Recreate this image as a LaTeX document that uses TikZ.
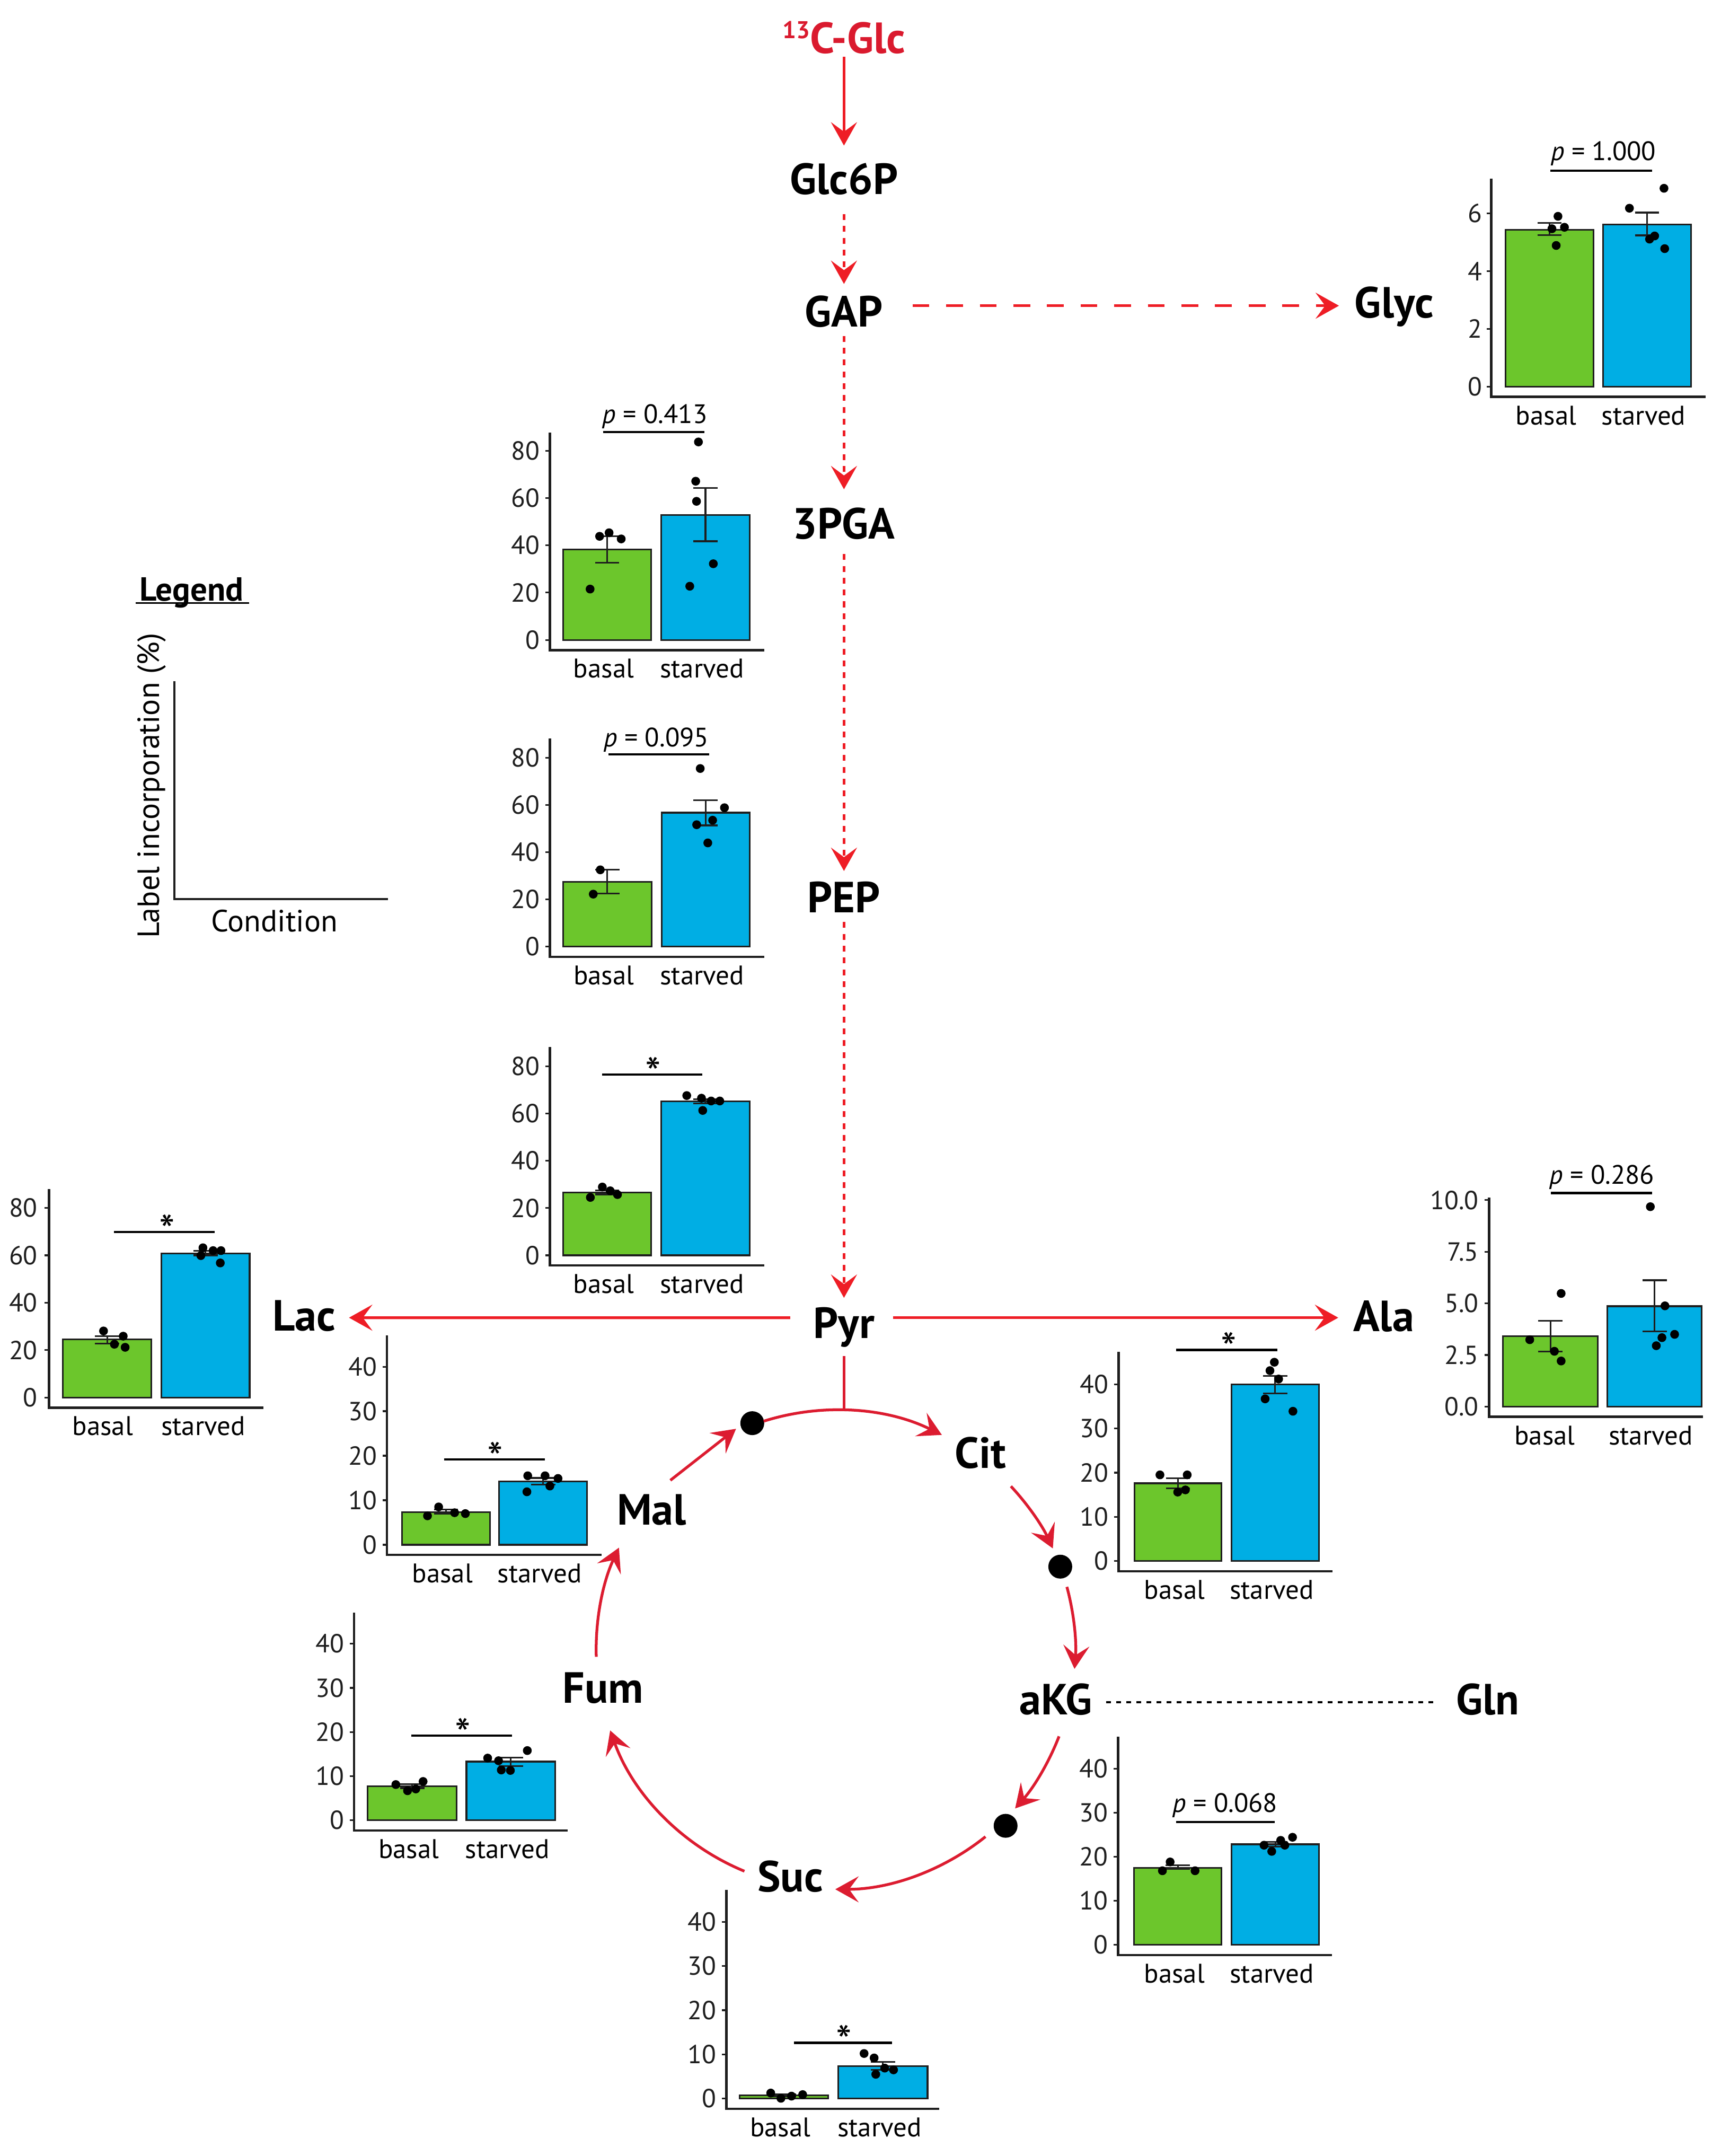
\documentclass[tikz,border=0pt]{standalone}
\usepackage{fontspec}
\setmainfont{PT Sans}
\usetikzlibrary{arrows.meta,calc}
\definecolor{glyred}{RGB}{238,29,37}
\definecolor{cycred}{RGB}{220,28,48}
\definecolor{txtred}{RGB}{218,26,46}
\definecolor{bargreen}{RGB}{108,198,44}
\definecolor{barblue}{RGB}{0,174,228}
\definecolor{ink}{RGB}{30,30,30}
\tikzset{
  metab/.style={font=\fontsize{23.4}{28}\selectfont\bfseries, inner sep=0pt, anchor=base},
  tipend/.style={-{Stealth[length=0.44cm,width=0.49cm,inset=0.18cm]}},
  glyline/.style={draw=glyred, line width=1.5pt},
  glysolid/.style={glyline, tipend},
  glydot/.style={glyline, tipend, dash pattern=on 0.11cm off 0.113cm},
  glydash/.style={glyline, tipend, dash pattern=on 0.317cm off 0.317cm},
  cycarr/.style={draw=cycred, line width=1.5pt, tipend},
  cycline/.style={draw=cycred, line width=1.5pt},
  tcadot/.style={circle, fill=black, inner sep=0pt, minimum size=0.45cm},
  glnline/.style={draw=black, line width=1.1pt, dash pattern=on 0.09cm off 0.1cm},
  axisl/.style={draw=ink, line width=1.3pt},
  tickl/.style={draw=ink, line width=0.9pt},
  ticklab/.style={font=\fontsize{14}{16}\selectfont, inner sep=0pt, anchor=east, text=ink},
  catlab/.style={font=\fontsize{14.5}{17}\selectfont, inner sep=0pt, anchor=base, text=black},
  ptext/.style={font=\fontsize{14.3}{17}\selectfont, inner sep=0pt, anchor=base},
  startext/.style={font=\fontsize{24}{26}\selectfont, inner sep=0pt, anchor=base},
  gbar/.style={fill=bargreen, draw=ink, line width=0.9pt},
  bbar/.style={fill=barblue, draw=ink, line width=0.9pt},
  errl/.style={draw=ink, line width=0.9pt},
  sigl/.style={draw=black, line width=1.2pt},
  legtext/.style={font=\fontsize{16.5}{20}\selectfont, inner sep=0pt},
}
% chart helpers (inside a shifted scope, \chs = display units per data unit)
\newcommand{\chframe}[4]{%
  \draw[axisl] (0,-#1) -- (0,7.4) -- (#2,7.4);
  \foreach \tv/\tl in {#3}{%
    \draw[tickl] (-3.3,{-(\tv)*\chs}) -- (0,{-(\tv)*\chs});
    \node[ticklab] at (#4,{-(\tv)*\chs}) {\tl};}}
\newcommand{\chbars}[6]{%
  \draw[gbar] (#1,0) rectangle (#2,{-(#3)*\chs});
  \draw[bbar] (#4,0) rectangle (#5,{-(#6)*\chs});}
\newcommand{\cherr}[3]{%
  \draw[errl] ({#1-8.8},{-(#3)*\chs}) -- ({#1+8.8},{-(#3)*\chs})
              (#1,{-(#3)*\chs}) -- (#1,{-(#2)*\chs})
              ({#1-8.8},{-(#2)*\chs}) -- ({#1+8.8},{-(#2)*\chs});}
\newcommand{\chpts}[2]{\foreach \pdx/\pv in {#2}{\fill[black] ({#1+(\pdx)},{-(\pv)*\chs}) circle[radius=3.2];}}
\newcommand{\chcats}[2]{\node[catlab] at (#1,27.6) {basal}; \node[catlab] at (#2,27.6) {starved};}
\newcommand{\chsig}[6]{\draw[sigl] (#1,#3) -- (#2,#3); \node[ptext] at (#4,#5) {#6};}
\newcommand{\chstar}[4]{\draw[sigl] (#1,#3) -- (#2,#3); \node[startext] at (#4,{#3+10.5}) {*};}

\begin{document}
\begin{tikzpicture}[x=0.025976cm, y=-0.025976cm]
\fill[white] (0,0) rectangle (1250,1565.7);
\useasboundingbox (0,0) rectangle (1250,1565.7);

% ---------------- metabolite nodes ----------------
\node[metab, text=txtred] (glc) at (613,38.7) {\raisebox{8pt}{\fontsize{13}{14}\selectfont 13}C-Glc};
\node[metab] (g6p) at (613,140.9) {Glc6P};
\node[metab] (gap) at (613,237.2) {GAP};
\node[metab] (pga) at (613,391.4) {3PGA};
\node[metab] (pep) at (613,662.7) {PEP};
\node[metab] (pyr) at (613,971.7) {Pyr};
\node[metab] (glyc) at (1012.6,230.8) {Glyc};
\node[metab] (lac) at (220.9,966.6) {Lac};
\node[metab] (ala) at (1005,967) {Ala};
\node[metab] (mal) at (473.3,1107.4) {Mal};
\node[metab] (cit) at (712.3,1066.2) {Cit};
\node[metab] (akg) at (766.9,1245.3) {aKG};
\node[metab] (gln) at (1080.6,1245.3) {Gln};
\node[metab] (fum) at (438.1,1236.8) {Fum};
\node[metab] (suc) at (574,1373.6) {Suc};

\node[tcadot] (d1) at (546.4,1033.5) {};
\node[tcadot] (d2) at (770.1,1137.7) {};
\node[tcadot] (d3) at (730.4,1325.9) {};
\coordinate (tca) at (607,1198);

% ---------------- glycolysis connectors ----------------
\draw[glysolid] ($(glc.base)+(0,2.6)$) -- ($(g6p.base)+(0,-35.2)$);
\draw[glydot] ($(g6p.base)+(0,14.6)$) -- ($(gap.base)+(0,-31)$);
\draw[glydot] ($(gap.base)+(0,6.8)$) -- ($(pga.base)+(0,-36.1)$);
\draw[glydot] ($(pga.base)+(0,11)$) -- ($(pep.base)+(0,-30.2)$);
\draw[glydot] ($(pep.base)+(0,6.9)$) -- ($(pyr.base)+(0,-29.2)$);
\draw[glydash] ($(gap.base)+(49.8,-15.2)$) -- ($(glyc.base)+(-40.1,-8.8)$);
\draw[glysolid] ($(pyr.base)+(-39.1,-14.8)$) -- ($(lac.base)+(32.6,-9.7)$);
\draw[glysolid] ($(pyr.base)+(35.6,-14.8)$) -- ($(ala.base)+(-33,-10.1)$);

% ---------------- TCA cycle ----------------
\draw[cycline] ($(pyr.base)+(0,13)$) -- ($(pyr.base)+(0,52.8)$);
\draw[cycarr] ($(tca)+(-107.5:174)$) arc[start angle=-107.5, end angle=-63.7, radius=174];
\draw[cycarr] ($(tca)+(-43:174)$) arc[start angle=-43, end angle=-25, radius=174];
\draw[cycarr] ($(tca)+(-15.2:174)$) arc[start angle=-15.2, end angle=4.6, radius=174];
\draw[cycarr] ($(tca)+(21.2:174)$) arc[start angle=21.2, end angle=41.5, radius=174];
\draw[cycarr] ($(tca)+(51.3:174)$) arc[start angle=51.3, end angle=90.1, radius=174];
\draw[cycarr] ($(tca)+(112.4:174)$) arc[start angle=112.4, end angle=160.3, radius=174];
\draw[cycarr] ($(tca)+(178.3:174)$) arc[start angle=178.3, end angle=205.2, radius=174];
\draw[cycarr] ($(mal.base)+(13.6,-32.4)$) -- ($(d1)+(-11.8,4.1)$);
\draw[glnline] ($(akg.base)+(36.5,-9)$) -- ($(gln.base)+(-36.6,-9)$);

% ---------------- legend ----------------
\node[font=\fontsize{17.9}{21}\selectfont\bfseries, inner sep=0pt, anchor=base] (legend) at (139.2,436.4) {Legend};
\draw[line width=0.8pt] ($(legend.base)+(-40.8,1.5)$) -- ($(legend.base)+(41.7,1.5)$);
\node[legtext, anchor=base] (cond) at (199.3,676.5) {Condition};
\node[legtext, anchor=base, rotate=90] (ylab) at (115.6,570.6) {Label incorporation (\%)};
\draw[axisl] (126.7,494.6) -- (126.7,652.9) -- (281.8,652.9);

% ---------------- charts ----------------
% Glyc
\begin{scope}[shift={(1083.1,280.8)}]\def\chs{20.97}
 \chbars{10.5}{74.3}{5.43}{81.1}{145.3}{5.62}
 \cherr{42.4}{5.25}{5.67} \cherr{113.2}{5.24}{6.03}
 \chpts{42.4}{6.1/5.9,1.7/5.47,10.8/5.52,4.8/4.89}
 \chpts{113.2}{12.3/6.87,-12.8/6.18,5.5/5.22,1.8/5.11,12.8/4.78}
 \chframe{151.2}{155.9}{0/0,2/2,4/4,6/6}{-6.3}
 \chcats{39.9}{110.7}
 \chsig{42.9}{116.9}{-156.8}{81.5}{-164.2}{\textit{p} = 1.000}
\end{scope}
% 3PGA
\begin{scope}[shift={(399.5,464.7)}]\def\chs{1.7175}
 \chbars{9.4}{73.5}{38.3}{80.7}{145}{52.9}
 \cherr{41.5}{32.6}{43.8} \cherr{112.9}{41.7}{64.3}
 \chpts{41.5}{-12.4/21.5,-5.5/43.8,1.4/45.3,10.2/42.7}
 \chpts{112.9}{-5.1/83.7,-7.1/67.1,-6.5/58.6,5.7/32.2,-11.4/22.7}
 \chframe{150.7}{155.7}{0/0,20/20,40/40,60/60,80/80}{-7.3}
 \chcats{39}{110.4}
 \chsig{38.5}{112}{-151}{76.2}{-157.3}{\textit{p} = 0.413}
\end{scope}
% PEP
\begin{scope}[shift={(399.5,687.4)}]\def\chs{1.715}
 \chbars{9.4}{73.9}{27.4}{81.1}{144.9}{56.7}
 \cherr{41.6}{22.4}{32.6} \cherr{113}{51.3}{62.0}
 \chpts{41.6}{-5.1/32.5,-10.2/22.2}
 \chpts{113}{-3.9/75.4,13.7/58.8,5.1/53.5,-6.5/51.6,1.6/43.9}
 \chframe{151.2}{155.7}{0/0,20/20,40/40,60/60,80/80}{-7.3}
 \chcats{39.1}{110.5}
 \chsig{42.5}{115.5}{-139.5}{77.2}{-145}{\textit{p} = 0.095}
\end{scope}
% Pyr
\begin{scope}[shift={(399.5,911.6)}]\def\chs{1.716}
 \chbars{9.4}{73.5}{26.6}{80.7}{145}{65.2}
 \cherr{41.5}{25.8}{27.4} \cherr{112.9}{64.3}{66.1}
 \chpts{41.5}{-12.2/24.5,-3.5/28.9,2.2/27.3,7.5/25.7}
 \chpts{112.9}{-13.6/67.6,-2.9/66.5,4.1/65.3,10.4/65.3,-2.0/61.3}
 \chframe{151.3}{155.7}{0/0,20/20,40/40,60/60,80/80}{-7.3}
 \chcats{39}{110.4}
 \chstar{37.9}{110.6}{-131.3}{74.8}
\end{scope}
% Lac
\begin{scope}[shift={(35.6,1014.9)}]\def\chs{1.721}
 \chbars{9.9}{74.4}{24.5}{81.6}{145.7}{60.8}
 \cherr{42.2}{22.8}{25.9} \cherr{113.7}{60.0}{62.0}
 \chpts{42.2}{-2.6/28.1,11.7/25.9,5.3/22.5,13.1/21.2}
 \chpts{113.7}{-1.9/63.2,-3.4/59.9,5.5/62.0,11.2/62.0,10.7/56.8}
 \chframe{151.4}{155.7}{0/0,20/20,40/40,60/60,80/80}{-8.1}
 \chcats{39}{112}
 \chstar{47.2}{120.3}{-120.2}{85.6}
\end{scope}
% Ala
\begin{scope}[shift={(1081.5,1021.5)}]\def\chs{15.0}
 \chbars{10.2}{79}{3.42}{86}{154.6}{4.86}
 \cherr{44.6}{2.67}{4.15} \cherr{120.3}{3.65}{6.12}
 \chpts{44.6}{-15/3.24,2.9/2.68,7.8/2.21,7.8/5.48}
 \chpts{120.3}{-3.1/9.68,7.5/4.88,14.5/3.50,5.3/3.34,1.2/2.95}
 \chframe{151.8}{155.6}{0/0.0,2.5/2.5,5/5.0,7.5/7.5,10/10.0}{-7.4}
 \chcats{40.5}{117.5}
 \chsig{45}{118.3}{-155.1}{82}{-161.7}{\textit{p} = 0.286}
\end{scope}
% Mal
\begin{scope}[shift={(281.1,1121.8)}]\def\chs{3.2325}
 \chbars{10.8}{74.8}{7.36}{81.5}{145.3}{14.26}
 \cherr{42.8}{7.0}{7.9} \cherr{113.4}{13.5}{15.0}
 \chpts{42.8}{-13.4/6.5,-5.3/8.5,6.3/7.2,14.1/7.0}
 \chpts{113.4}{-11.2/15.5,1.4/15.5,10.8/14.9,4.9/13.2,-11.8/11.9}
 \chframe{151.9}{155.7}{0/0,10/10,20/20,30/30,40/40}{-7}
 \chcats{40.3}{110.9}
 \chstar{41.4}{114.5}{-61.9}{78.7}
\end{scope}
% Cit
\begin{scope}[shift={(812.4,1133.6)}]\def\chs{3.208}
 \chbars{11.5}{74.8}{17.6}{82.1}{145.5}{40.0}
 \cherr{43.2}{16.5}{18.7} \cherr{113.8}{37.9}{41.9}
 \chpts{43.2}{-13.1/19.5,6.7/19.5,-0.2/15.6,5.4/16.1}
 \chpts{113.8}{-0.6/45.0,-3.8/43.1,2.5/41.2,-7.3/36.7,12.9/33.9}
 \chframe{151.9}{155.5}{0/0,10/10,20/20,30/30,40/40}{-7}
 \chcats{40.7}{111.3}
 \chstar{41.8}{115.5}{-153.3}{80}
\end{scope}
% Fum
\begin{scope}[shift={(257.2,1321.9)}]\def\chs{3.205}
 \chbars{9.9}{74.4}{7.7}{81.6}{146}{13.3}
 \cherr{42.2}{7.3}{8.2} \cherr{113.8}{12.3}{14.2}
 \chpts{42.2}{-11.9/8.1,-3.4/6.7,2.6/7.1,7.9/8.8}
 \chpts{113.8}{-16.8/14.1,-8.9/13.5,-6.9/11.4,-0.3/11.3,12.0/15.8}
 \chframe{150.7}{155.1}{0/0,10/10,20/20,30/30,40/40}{-7}
 \chcats{39.7}{111.3}
 \chstar{41.7}{114.8}{-61.6}{79}
\end{scope}
% aKG
\begin{scope}[shift={(812.1,1412.3)}]\def\chs{3.2}
 \chbars{11.6}{75.1}{17.5}{82.4}{146}{22.8}
 \cherr{43.4}{17.2}{18.1} \cherr{114.2}{22.3}{23.3}
 \chpts{43.4}{-5.6/18.8,-11.2/16.8,12.5/16.8}
 \chpts{114.2}{-8.2/22.6,-2.6/21.2,3.9/23.7,12.5/24.4,6.9/22.6}
 \chframe{151.2}{155.5}{0/0,10/10,20/20,30/30,40/40}{-7}
 \chcats{40.9}{111.7}
 \chsig{42.1}{113.8}{-89.3}{77.7}{-96.1}{\textit{p} = 0.068}
\end{scope}
% Suc
\begin{scope}[shift={(527.6,1524)}]\def\chs{3.21}
 \chbars{9.5}{73.9}{0.77}{81.2}{146.1}{7.36}
 \cherr{41.7}{0.5}{1.0} \cherr{113.7}{6.5}{8.27}
 \chpts{41.7}{-9.5/1.26,-2.1/0.07,5.6/0.56,13.7/0.9}
 \chpts{113.7}{-13.7/10.2,-6.4/9.2,1.3/6.9,7.7/6.5,-5.2/5.5}
 \chframe{151.5}{154.7}{0/0,10/10,20/20,30/30,40/40}{-7}
 \chcats{39.2}{111.2}
 \chstar{49}{120.3}{-40.5}{85.5}
\end{scope}
\end{tikzpicture}
\end{document}
